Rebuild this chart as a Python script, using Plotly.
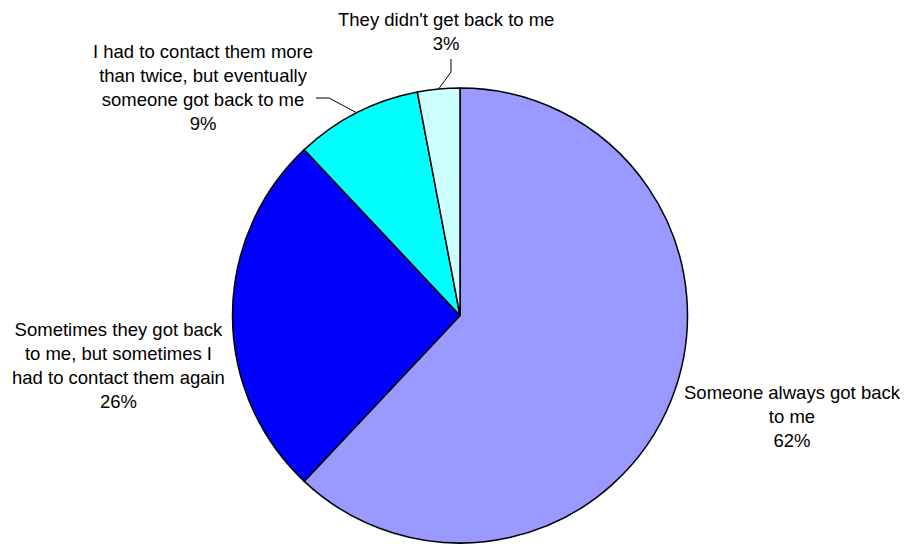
import math
import plotly.graph_objects as go

# Survey responses: did someone get back to you?
labels = [
    "Someone always got back<br>to me",
    "Sometimes they got back<br>to me, but sometimes I<br>had to contact them again",
    "I had to contact them more<br>than twice, but eventually<br>someone got back to me",
    "They didn't get back to me",
]
values = [62, 26, 9, 3]
colors = ["#9999FF", "#0000FF", "#00FFFF", "#CCFFFF"]

W, H = 904, 544
CX, CY, R = 460.0, 315.5, 227.5


def px(x):
    return x / W


def py(y):
    return 1 - y / H


fig = go.Figure(
    go.Pie(
        labels=labels,
        values=values,
        sort=False,
        direction="clockwise",
        rotation=0,
        marker=dict(colors=colors, line=dict(color="black", width=1.5)),
        textinfo="none",
        hoverinfo="label+percent",
        showlegend=False,
        domain=dict(x=[px(CX - R), px(CX + R)], y=[py(CY + R), py(CY - R)]),
    )
)

# label block centres (pixels) for each slice
label_pos = [(792, 416), (118, 365), (203, 87), (446, 31)]
total = sum(values)
font = dict(family="Liberation Sans, Arial, sans-serif", size=18.5, color="black")
for lab, v, (lx, ly) in zip(labels, values, label_pos):
    pct = round(100 * v / total)
    fig.add_annotation(
        x=px(lx), y=py(ly), xref="paper", yref="paper",
        text=f"{lab}<br>{pct}%", showarrow=False, font=font,
        xanchor="center", yanchor="middle", align="center",
    )


# leader lines from the small slices to their labels
def edge_point(idx):
    start = sum(values[:idx])
    mid = (start + values[idx] / 2) / total * 2 * math.pi
    return CX + R * math.sin(mid), CY - R * math.cos(mid)


elbows = {
    3: [(451, 59), (451, 72)],
    2: [(316, 98), (329, 98)],
}
for idx, pts in elbows.items():
    ex, ey = edge_point(idx)
    path = pts + [(ex, ey)]
    for (x0, y0), (x1, y1) in zip(path[:-1], path[1:]):
        fig.add_shape(
            type="line", xref="paper", yref="paper",
            x0=px(x0), y0=py(y0), x1=px(x1), y1=py(y1),
            line=dict(color="black", width=1),
        )

fig.update_layout(
    width=W, height=H,
    margin=dict(l=0, r=0, t=0, b=0),
    paper_bgcolor="white", plot_bgcolor="white",
)

fig.write_html("out.html")
